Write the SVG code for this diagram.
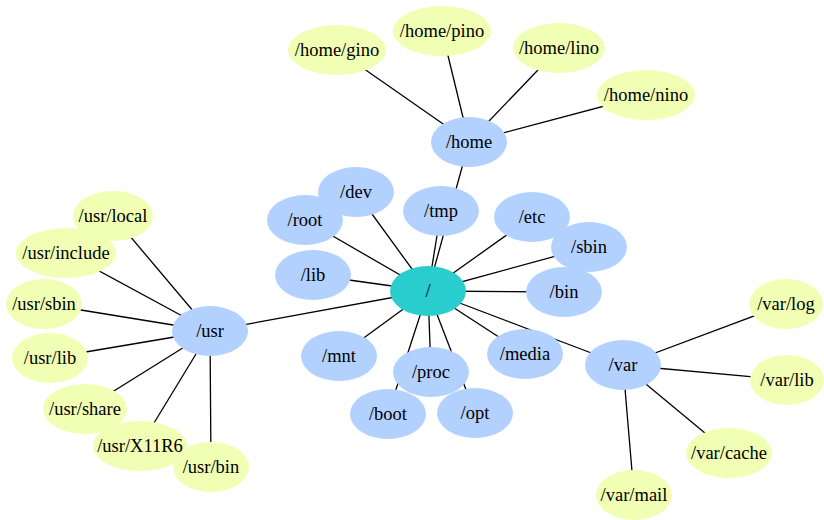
<svg xmlns="http://www.w3.org/2000/svg" width="824" height="520" viewBox="0 0 824 520">
<style>
.e{stroke:#000;stroke-width:1.3;fill:none}
.d{fill:#b3d1ff}
.r{fill:#29cdcd}
.l{fill:#f0ffb3}
text{font-family:"Liberation Serif","Times New Roman",serif;font-size:18.5px;fill:#000;text-anchor:middle}
</style>
<rect width="824" height="520" fill="#fff"/>
<g id="edges">
<line class="e" x1="428" y1="291" x2="356" y2="192"/>
<line class="e" x1="428" y1="291" x2="305" y2="220"/>
<line class="e" x1="428" y1="291" x2="313" y2="275"/>
<line class="e" x1="428" y1="291" x2="441" y2="211"/>
<line class="e" x1="428" y1="291" x2="469" y2="142"/>
<line class="e" x1="428" y1="291" x2="532" y2="217"/>
<line class="e" x1="428" y1="291" x2="589" y2="247"/>
<line class="e" x1="428" y1="291" x2="564" y2="292"/>
<line class="e" x1="428" y1="291" x2="623" y2="365"/>
<line class="e" x1="428" y1="291" x2="525" y2="354"/>
<line class="e" x1="428" y1="291" x2="475" y2="413"/>
<line class="e" x1="428" y1="291" x2="431" y2="372"/>
<line class="e" x1="428" y1="291" x2="388" y2="414"/>
<line class="e" x1="428" y1="291" x2="339" y2="356"/>
<line class="e" x1="428" y1="291" x2="210" y2="331"/>
<line class="e" x1="469" y1="142" x2="337" y2="50"/>
<line class="e" x1="469" y1="142" x2="442" y2="31"/>
<line class="e" x1="469" y1="142" x2="559" y2="48"/>
<line class="e" x1="469" y1="142" x2="646" y2="95"/>
<line class="e" x1="210" y1="331" x2="113" y2="216"/>
<line class="e" x1="210" y1="331" x2="66" y2="253"/>
<line class="e" x1="210" y1="331" x2="44" y2="304"/>
<line class="e" x1="210" y1="331" x2="50" y2="358"/>
<line class="e" x1="210" y1="331" x2="85" y2="409"/>
<line class="e" x1="210" y1="331" x2="140" y2="446"/>
<line class="e" x1="210" y1="331" x2="211" y2="467"/>
<line class="e" x1="623" y1="365" x2="786" y2="304"/>
<line class="e" x1="623" y1="365" x2="787" y2="380"/>
<line class="e" x1="623" y1="365" x2="729" y2="453"/>
<line class="e" x1="623" y1="365" x2="634" y2="495"/>
</g>
<g id="n-root"><ellipse class="r" cx="428" cy="291" rx="38" ry="25"/><text x="428" y="297">/</text></g>
<g id="n-dev"><ellipse class="d" cx="356" cy="192" rx="38" ry="25"/><text x="356" y="198">/dev</text></g>
<g id="n-root-dir"><ellipse class="d" cx="305" cy="220" rx="38" ry="25"/><text x="305" y="226">/root</text></g>
<g id="n-lib"><ellipse class="d" cx="313" cy="275" rx="38" ry="25"/><text x="313" y="281">/lib</text></g>
<g id="n-tmp"><ellipse class="d" cx="441" cy="211" rx="38" ry="25"/><text x="441" y="217">/tmp</text></g>
<g id="n-home"><ellipse class="d" cx="469" cy="142" rx="38" ry="25"/><text x="469" y="148">/home</text></g>
<g id="n-etc"><ellipse class="d" cx="532" cy="217" rx="38" ry="25"/><text x="532" y="223">/etc</text></g>
<g id="n-sbin"><ellipse class="d" cx="589" cy="247" rx="38" ry="25"/><text x="589" y="253">/sbin</text></g>
<g id="n-bin"><ellipse class="d" cx="564" cy="292" rx="38" ry="25"/><text x="564" y="298">/bin</text></g>
<g id="n-mnt"><ellipse class="d" cx="339" cy="356" rx="38" ry="25"/><text x="339" y="362">/mnt</text></g>
<g id="n-media"><ellipse class="d" cx="525" cy="354" rx="38" ry="25"/><text x="525" y="360">/media</text></g>
<g id="n-proc"><ellipse class="d" cx="431" cy="372" rx="38" ry="25"/><text x="431" y="378">/proc</text></g>
<g id="n-boot"><ellipse class="d" cx="388" cy="414" rx="38" ry="25"/><text x="388" y="420">/boot</text></g>
<g id="n-opt"><ellipse class="d" cx="475" cy="413" rx="38" ry="25"/><text x="475" y="419">/opt</text></g>
<g id="n-usr"><ellipse class="d" cx="210" cy="331" rx="38" ry="25"/><text x="210" y="337">/usr</text></g>
<g id="n-var"><ellipse class="d" cx="623" cy="365" rx="38" ry="25"/><text x="623" y="371">/var</text></g>
<g id="n-home-gino"><ellipse class="l" cx="337" cy="50" rx="49" ry="25"/><text x="337" y="56">/home/gino</text></g>
<g id="n-home-pino"><ellipse class="l" cx="442" cy="31" rx="49" ry="25"/><text x="442" y="37">/home/pino</text></g>
<g id="n-home-lino"><ellipse class="l" cx="559" cy="48" rx="46" ry="25"/><text x="559" y="54">/home/lino</text></g>
<g id="n-home-nino"><ellipse class="l" cx="646" cy="95" rx="49" ry="25"/><text x="646" y="101">/home/nino</text></g>
<g id="n-usr-local"><ellipse class="l" cx="113" cy="216" rx="40" ry="25"/><text x="113" y="222">/usr/local</text></g>
<g id="n-usr-include"><ellipse class="l" cx="66" cy="253" rx="50" ry="25"/><text x="66" y="259">/usr/include</text></g>
<g id="n-usr-sbin"><ellipse class="l" cx="44" cy="304" rx="38" ry="25"/><text x="44" y="310">/usr/sbin</text></g>
<g id="n-usr-lib"><ellipse class="l" cx="50" cy="358" rx="38" ry="25"/><text x="50" y="364">/usr/lib</text></g>
<g id="n-usr-share"><ellipse class="l" cx="85" cy="409" rx="42" ry="25"/><text x="85" y="415">/usr/share</text></g>
<g id="n-usr-x11r6"><ellipse class="l" cx="140" cy="446" rx="47" ry="25"/><text x="140" y="452">/usr/X11R6</text></g>
<g id="n-usr-bin"><ellipse class="l" cx="211" cy="467" rx="38" ry="25"/><text x="211" y="473">/usr/bin</text></g>
<g id="n-var-log"><ellipse class="l" cx="786" cy="304" rx="37" ry="25"/><text x="786" y="310">/var/log</text></g>
<g id="n-var-lib"><ellipse class="l" cx="787" cy="380" rx="37" ry="25"/><text x="787" y="386">/var/lib</text></g>
<g id="n-var-cache"><ellipse class="l" cx="729" cy="453" rx="43" ry="25"/><text x="729" y="459">/var/cache</text></g>
<g id="n-var-mail"><ellipse class="l" cx="634" cy="495" rx="38" ry="25"/><text x="634" y="501">/var/mail</text></g>
</svg>
